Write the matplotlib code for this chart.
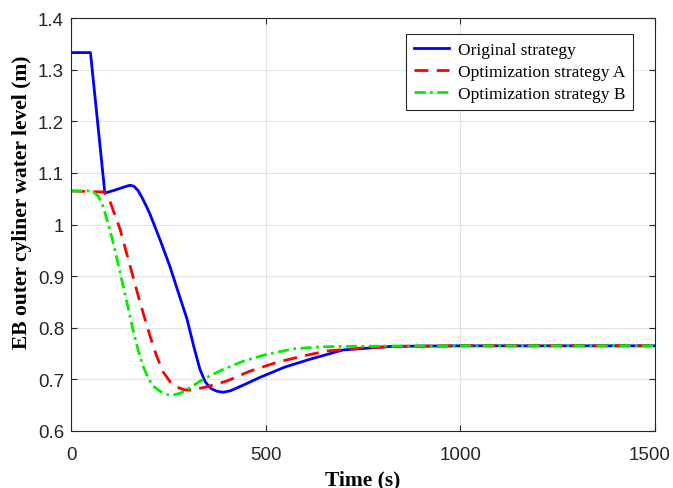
import matplotlib.pyplot as plt
import matplotlib.transforms as mtransforms
import numpy as np

# data
t_orig = [0, 50, 87, 110, 130, 142, 152, 162, 172, 182, 192, 203, 230, 254, 275, 298,
          315, 331, 345, 360, 375, 391, 410, 440, 486, 550, 614, 699, 827, 1000, 1500]
y_orig = [1.333, 1.333, 1.061, 1.066, 1.071, 1.074, 1.076, 1.074, 1.066, 1.053, 1.038,
          1.020, 0.968, 0.919, 0.870, 0.817, 0.765, 0.720, 0.695, 0.682, 0.677, 0.675,
          0.678, 0.688, 0.704, 0.724, 0.739, 0.757, 0.764, 0.765, 0.765]

t_a = [0, 85, 100, 126, 152, 177, 203, 220, 237, 255, 272, 290, 306, 340, 370, 401,
       460, 529, 600, 658, 750, 850, 1000, 1500]
y_a = [1.065, 1.063, 1.045, 0.991, 0.919, 0.850, 0.784, 0.745, 0.714, 0.695, 0.685,
       0.680, 0.679, 0.684, 0.690, 0.697, 0.716, 0.733, 0.746, 0.755, 0.761, 0.764,
       0.765, 0.765]

t_b = [0, 54, 70, 82, 95, 108, 121, 134, 147, 159, 172, 185, 198, 211, 230, 245, 259,
       280, 300, 339, 390, 442, 500, 570, 640, 699, 1000, 1500]
y_b = [1.065, 1.065, 1.055, 1.036, 1.003, 0.966, 0.924, 0.881, 0.838, 0.797, 0.758,
       0.726, 0.703, 0.687, 0.676, 0.671, 0.669, 0.673, 0.681, 0.700, 0.719, 0.735,
       0.748, 0.759, 0.763, 0.764, 0.765, 0.765]

fig = plt.figure(figsize=(6.73, 4.89), dpi=100)
ax = fig.add_axes([0.1055, 0.1166, 0.8675, 0.8445])

ax.plot(t_orig, y_orig, color='#0000ff', lw=2, label='Original strategy')
ax.plot(t_a, y_a, color='#ff0000', lw=2, ls=(0, (5, 3)), label='Optimization strategy A')
ax.plot(t_b, y_b, color='#00ee00', lw=2, ls=(0, (4, 1.6, 1, 1.6)),
        label='Optimization strategy B')

ax.set_xlim(0, 1500)
ax.set_ylim(0.6, 1.4)
ax.set_xticks([0, 500, 1000, 1500])
ax.set_yticks(np.arange(0.6, 1.41, 0.1))
ax.set_yticklabels(['0.6', '0.7', '0.8', '0.9', '1', '1.1', '1.2', '1.3', '1.4'])
ax.grid(True, color='#e3e3e3', lw=0.8)
ax.tick_params(direction='in', top=True, right=True, length=4, color='#262626',
               labelsize=13.5, labelcolor='#262626')
ax.tick_params(axis='x', pad=10.5)
ax.tick_params(axis='y', pad=5)
for lbl in ax.get_xticklabels() + ax.get_yticklabels():
    lbl.set_family('Liberation Sans')
# keep the last x label inside the figure, as in the reference
last = ax.get_xticklabels()[-1]
last.set_transform(last.get_transform() +
                   mtransforms.ScaledTranslation(-0.05, 0, fig.dpi_scale_trans))
for s in ax.spines.values():
    s.set_color('#262626')
    s.set_linewidth(0.8)

ax.set_xlabel('Time (s)', family='Liberation Serif', weight='bold', fontsize=15.5,
              labelpad=5)
ax.set_ylabel('EB outer cyliner water level (m)', family='Liberation Serif',
              weight='bold', fontsize=15.5)
ax.yaxis.set_label_coords(-0.067, 0.557)

leg = ax.legend(loc='upper right', bbox_to_anchor=(0.9623, 0.961), borderaxespad=0,
                prop={'family': 'Liberation Serif', 'size': 12.5}, fancybox=False,
                edgecolor='#262626', framealpha=1, handlelength=2.0,
                handletextpad=0.5, labelspacing=0.33, borderpad=0.45)
leg.get_frame().set_linewidth(0.8)

plt.savefig('out.png', dpi=100)
